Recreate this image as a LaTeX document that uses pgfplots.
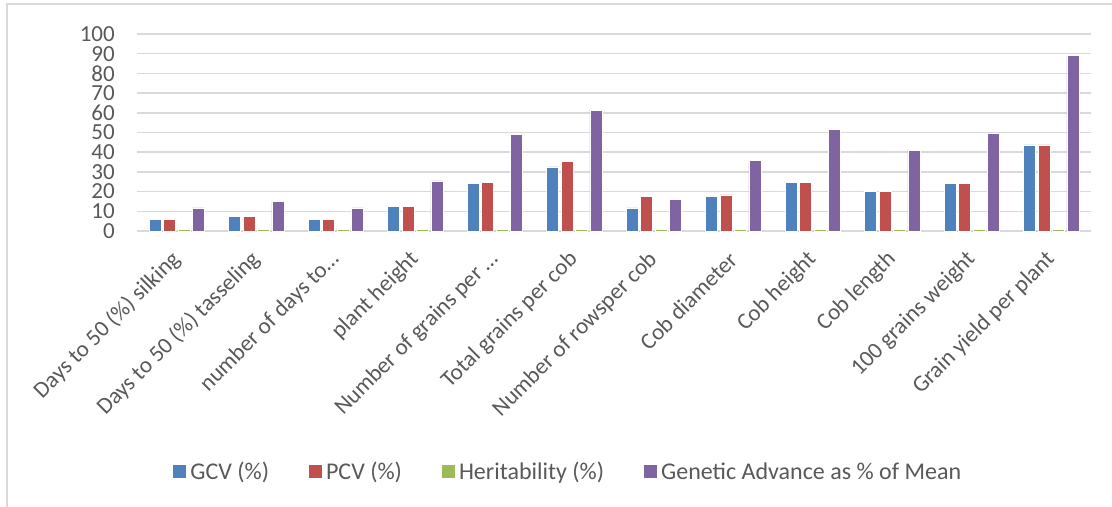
\documentclass[border=0pt]{standalone}
\usepackage{pgfplots}
\usepackage{pgfplotstable}
\pgfplotsset{compat=1.18}
\usepackage{fontspec}
\setmainfont{Carlito}
\definecolor{cgcv}{HTML}{4F81BD}
\definecolor{cpcv}{HTML}{C0504D}
\definecolor{cher}{HTML}{9BBB59}
\definecolor{cga}{HTML}{8064A2}
\definecolor{gridc}{HTML}{D9D9D9}
\definecolor{txt}{HTML}{595959}
\pgfplotstableread{
x GCV PCV H GA
0 5.9 5.9 0.9 11.8
1 7.3 7.3 0.9 15.1
2 5.9 5.9 0.9 11.8
3 12.5 12.5 0.9 25.4
4 24.2 24.7 0.9 48.9
5 32.6 35.2 0.9 61.3
6 11.7 17.6 0.9 16.2
7 17.6 18.3 0.9 35.9
8 24.7 24.7 0.9 51.6
9 20.1 20.1 0.9 41.1
10 24.2 24.2 0.9 49.6
11 43.7 43.7 0.9 89.3
}\datatable
\begin{document}
\begin{tikzpicture}
\useasboundingbox (-137bp,-276bp) rectangle (975bp,231bp);
\draw[gridc, line width=1.5bp] (-130bp,-276bp) -- (-130bp,227bp) -- (975bp,227bp);
\begin{axis}[
  at={(0,0)}, anchor=south west,
  scale only axis, width=954bp, height=197bp,
  ybar=2.4bp, bar width=12bp,
  xmin=-0.5, xmax=11.5, ymin=0, ymax=100,
  ytick={0,10,...,100},
  xtick=data,
  xticklabels={Days to 50 (\%) silking, Days to 50 (\%) tasseling, number of days to…, plant height, Number of grains per …, Total grains per cob, Number of rowsper cob, Cob diameter, Cob height, Cob length, 100 grains weight, Grain yield per plant},
  major tick length=0pt,
  axis x line*=bottom, axis y line*=left,
  x axis line style={gridc, line width=1.5bp, -},
  y axis line style={draw=none},
  ymajorgrids, major grid style={gridc, line width=1.5bp},
  /pgf/number format/assume math mode=true,
  tick label style={font=\fontsize{23bp}{26bp}\selectfont, text=txt},
  yticklabel style={inner sep=0pt, xshift=-22bp},
  xticklabel style={rotate=45, anchor=east, inner sep=0pt},
  xticklabel shift=25bp,
  legend style={draw=none, at={(axis description cs:0.451,-1.223)}, anchor=center, font=\fontsize{24bp}{27bp}\selectfont, text=txt, /tikz/every even column/.append style={column sep=40bp}, nodes={inner sep=0pt}},
  legend columns=4,
  legend image code/.code={\fill[#1, draw=none] (0bp,-6bp) rectangle (13bp,7bp);},
  every axis plot/.append style={draw=white, line width=0.5bp},
]
\addplot[fill=cgcv] table[x=x, y=GCV] {\datatable};
\addplot[fill=cpcv] table[x=x, y=PCV] {\datatable};
\addplot[fill=cher] table[x=x, y=H] {\datatable};
\addplot[fill=cga] table[x=x, y=GA] {\datatable};
\legend{\hspace{4bp}GCV (\%), \hspace{4bp}PCV (\%), \hspace{4bp}Heritability (\%), \hspace{4bp}Genetic Advance as \% of Mean}
\end{axis}
\end{tikzpicture}
\end{document}
